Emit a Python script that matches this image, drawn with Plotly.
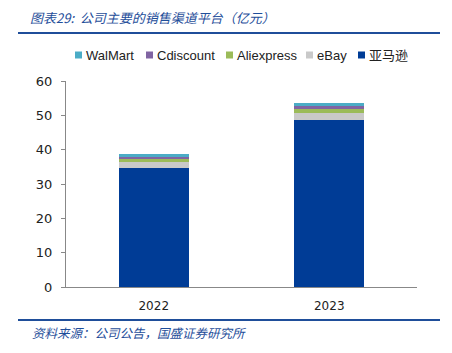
import plotly.graph_objects as go

years = ["2022", "2023"]
amazon = [34.6, 48.6]
ebay = [1.7, 2.2]
aliexpress = [1.0, 1.05]
cdiscount = [0.65, 0.85]
walmart = [0.75, 1.0]

series = [
    ("亚马逊", amazon, "#003C96"),
    ("eBay", ebay, "#C9C9C9"),
    ("Aliexpress", aliexpress, "#9BBB59"),
    ("Cdiscount", cdiscount, "#8064A2"),
    ("WalMart", walmart, "#4BACC6"),
]

fig = go.Figure()
for name, vals, color in series:
    fig.add_trace(go.Bar(x=years, y=vals, name=name, marker_color=color,
                         marker_line_width=0, width=0.4, showlegend=False))

W, H = 452, 353
L, R, T, B = 66, 35, 81, 66
PW, PH = W - L - R, H - T - B


def px(x):
    return (x - L) / PW


def py(y):
    return (H - B - y) / PH


blue = "#1F4E9A"
shapes = [
    dict(type="line", xref="paper", yref="paper", x0=px(18), x1=px(440),
         y0=py(33), y1=py(33), line=dict(color=blue, width=2)),
    dict(type="line", xref="paper", yref="paper", x0=px(18), x1=px(440),
         y0=py(320), y1=py(320), line=dict(color=blue, width=2)),
]
annotations = [
    dict(text="<i>图表29:  公司主要的销售渠道平台（亿元）</i>", xref="paper", yref="paper",
         x=px(28), y=py(18), xanchor="left", yanchor="middle",
         showarrow=False, font=dict(size=13, color=blue,
                                    family="Noto Sans CJK SC, sans-serif")),
    dict(text="<i>资料来源：公司公告，国盛证券研究所</i>", xref="paper", yref="paper",
         x=px(30), y=py(332), xanchor="left", yanchor="middle",
         showarrow=False, font=dict(size=12.5, color=blue,
                                    family="Noto Sans CJK SC, sans-serif")),
]

# manual legend (reversed order, like the reference)
legend_x = [75, 146, 226, 306, 358]
legend_y = 55
for (name, _, color), lx in zip(reversed(series), legend_x):
    shapes.append(dict(type="rect", xref="paper", yref="paper",
                       x0=px(lx), x1=px(lx + 7), y0=py(legend_y - 3.5), y1=py(legend_y + 3.5),
                       fillcolor=color, line=dict(width=0)))
    annotations.append(dict(text=name, xref="paper", yref="paper",
                            x=px(lx + 9), y=py(legend_y), xanchor="left", yanchor="middle",
                            showarrow=False,
                            font=dict(size=13, color="#222",
                                      family="Liberation Sans, Arial, Noto Sans CJK SC, sans-serif")))

fig.update_layout(
    barmode="stack",
    width=W, height=H,
    margin=dict(l=L, r=R, t=T, b=B),
    paper_bgcolor="white", plot_bgcolor="white",
    font=dict(family="DejaVu Sans, Verdana, sans-serif", size=12, color="#222"),
    showlegend=False,
    xaxis=dict(showline=True, linecolor="#888", linewidth=1, ticks="",
               tickfont=dict(size=12), ticklabelstandoff=8),
    yaxis=dict(range=[0, 60], dtick=10, showline=True, linecolor="#888",
               linewidth=1, ticks="outside", ticklen=4, tickcolor="#888",
               showgrid=False, zeroline=False, tickfont=dict(size=13),
               ticklabelstandoff=6),
    shapes=shapes,
    annotations=annotations,
)

fig.write_html("out.html")
